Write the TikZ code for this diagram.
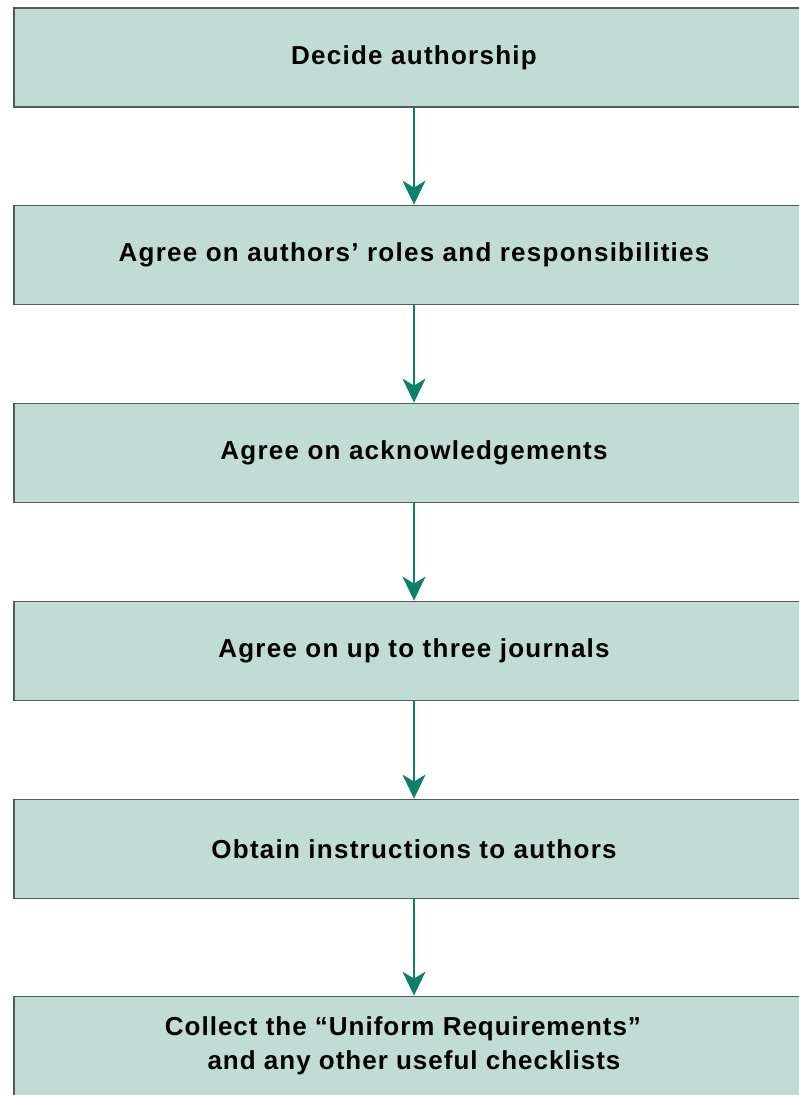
\documentclass[tikz,border=0pt]{standalone}
\usepackage{fontspec}
\setmainfont{Liberation Sans}
\newfontfamily\labelfont[LetterSpace=4.8]{Liberation Sans}
\newfontfamily\noteslabelfont[LetterSpace=3.8]{Liberation Sans}
\usetikzlibrary{arrows.meta}
\definecolor{boxfill}{HTML}{C0DCD4}
\definecolor{boxline}{HTML}{4F5B58}
\definecolor{flow}{HTML}{0E8068}
\tikzset{
  stepbox/.style={draw=boxline, line width=1.8pt, fill=boxfill,
    minimum width=800pt, minimum height=99pt, inner sep=0pt,
    font=\fontsize{26}{34}\selectfont\labelfont\bfseries, align=center},
  flowarrow/.style={draw=flow, line width=1.8pt,
    -{Stealth[length=24pt,width=23pt,inset=7pt]}}
}
\begin{document}
\begin{tikzpicture}[x=1pt,y=-1pt]
\useasboundingbox (0,0) rectangle (798,1095);
\node[stepbox] (s1) at (414,57.5) {Decide authorship};
\node[stepbox] (s2) at (414,255) {Agree on authors’ roles and responsibilities};
\node[stepbox] (s3) at (414,453) {Agree on acknowledgements};
\node[stepbox] (s4) at (414,651) {Agree on up to three journals};
\node[stepbox] (s5) at (414,849) {Obtain instructions to authors};
\node[stepbox, font=\fontsize{26}{34}\selectfont\noteslabelfont\bfseries] (s6) at (414,1046)
  {Collect the “Uniform Requirements”\hspace*{22pt}\\and any other useful checklists};
\draw[flowarrow] (s1.south) -- (s2.north);
\draw[flowarrow] (s2.south) -- (s3.north);
\draw[flowarrow] (s3.south) -- (s4.north);
\draw[flowarrow] (s4.south) -- (s5.north);
\draw[flowarrow] (s5.south) -- (s6.north);
\end{tikzpicture}
\end{document}
